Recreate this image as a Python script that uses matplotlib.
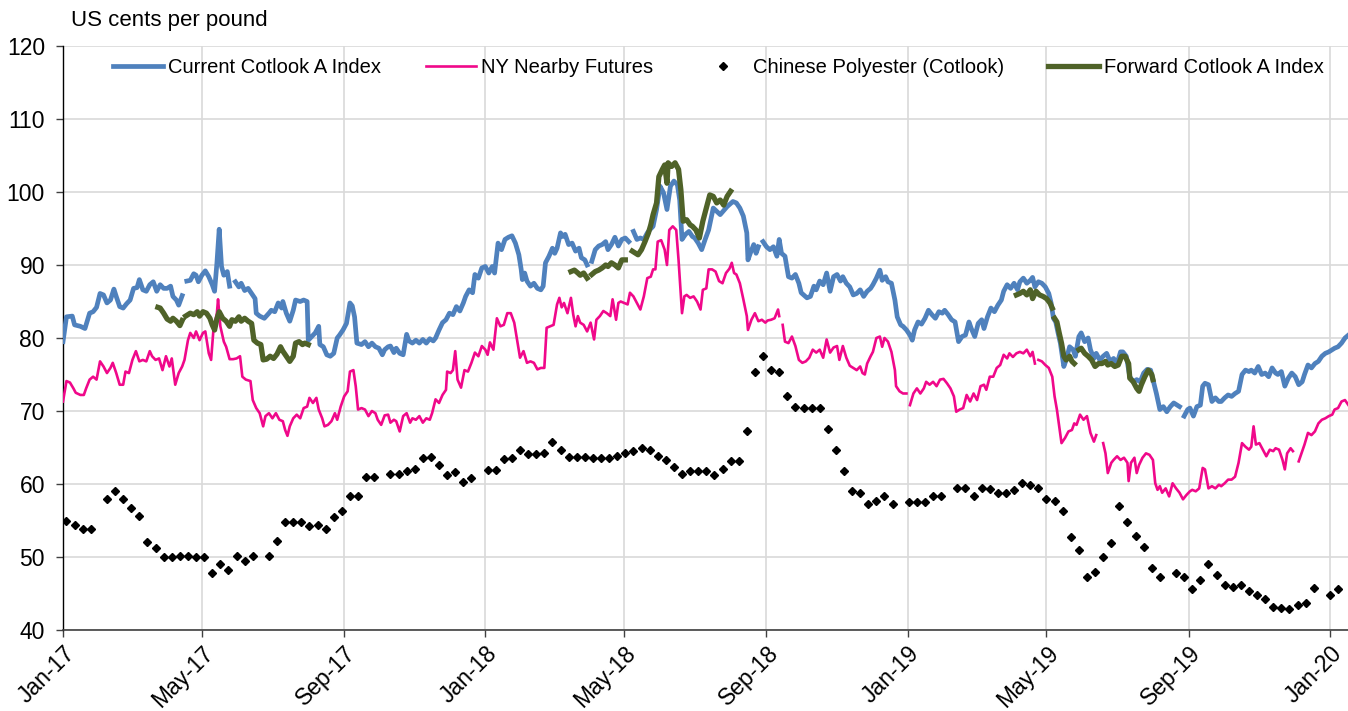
import numpy as np
import pandas as pd
import matplotlib
matplotlib.use('Agg')
import matplotlib.pyplot as plt

plt.rcParams['font.family'] = ['Liberation Sans', 'DejaVu Sans']

nan = np.nan
BASE = pd.Timestamp('2017-01-01')

# ---------- Current Cotlook A Index (day offset from 1 Jan 2017, US cents/lb) ----------
cotlook_day = [
    0, 3, 8, 10, 15, 19, 23, 26, 29, 32, 35, 38, 41, 44, 46, 49, 52, 55, 58, 61,
    64, 66, 69, 72, 75, 78, 81, 84, 87, 90, 93, 95, 98, 100, 103, 105, 107, 110, 113, 115,
    117, 120, 123, 126, 129, 131, 133, 135, 137, 139, 142, 144, 146, 149, 152, 154, 157, 160, 163, 166,
    167, 170, 174, 178, 180, 183, 186, 189, 190, 193, 196, 199, 201, 205, 208, 211, 212, 215, 218, 221,
    222, 225, 228, 231, 234, 237, 239, 242, 245, 248, 250, 252, 254, 258, 261, 264, 267, 270, 273, 276,
    278, 281, 283, 286, 288, 291, 294, 297, 299, 302, 305, 308, 311, 314, 317, 320, 322, 325, 328, 331,
    334, 337, 340, 343, 346, 348, 351, 354, 356, 359, 362, 365, 368, 371, 373, 376, 379, 382, 385, 388,
    391, 394, 396, 397, 399, 401, 404, 407, 410, 413, 415, 417, 420, 423, 425, 427, 430, 432, 434, 437,
    440, 443, 446, 448, 451, 453, 455, 457, 460, 463, 466, 469, 471, 474, 477, 480, 483, 486, 489, 491,
    493, 496, 499, 502, 505, 507, 510, 513, 516, 519, 522, 525, 528, 531, 533, 535, 538, 541, 544, 546,
    549, 552, 555, 558, 562, 568, 574, 579, 582, 585, 588, 591, 592, 594, 597, 599, 601, 603, 605, 608,
    611, 614, 617, 619, 621, 624, 627, 630, 633, 636, 638, 643, 646, 649, 651, 654, 657, 660, 663, 666,
    669, 672, 674, 677, 680, 683, 686, 689, 692, 695, 698, 700, 703, 706, 708, 711, 713, 716, 719, 721,
    724, 726, 729, 732, 734, 736, 739, 742, 745, 748, 751, 754, 757, 760, 762, 765, 768, 771, 774, 777,
    780, 783, 785, 788, 791, 794, 796, 799, 802, 805, 808, 811, 813, 816, 819, 822, 825, 827, 830, 833,
    836, 838, 840, 843, 846, 849, 852, 854, 856, 858, 860, 862, 865, 867, 870, 873, 875, 878, 880, 883,
    886, 888, 891, 893, 896, 899, 902, 905, 908, 911, 914, 916, 919, 922, 925, 928, 931, 934, 937, 940,
    942, 945, 948, 951, 954, 957, 960, 963, 965, 967, 969, 972, 974, 977, 980, 983, 985, 987, 990, 993,
    996, 999, 1001, 1004, 1007, 1010, 1013, 1016, 1019, 1022, 1025, 1027, 1030, 1033, 1036, 1039, 1042, 1045, 1048, 1050,
    1053, 1056, 1059, 1062, 1065, 1068, 1071, 1073, 1076, 1079, 1082, 1085, 1088, 1091, 1094, 1097, 1099, 1102, 1105, 1108,
    1111,
]
cotlook_val = [
    79.5, 82.9, 83.0, 81.8, 81.6, 81.3, 83.4, 83.6, 84.2, 86.1, 85.9, 84.8, 85.2, 86.7, 85.7, 84.3, 84.1, 84.7, 85.2, 86.8,
    86.9, 88.0, 86.6, 86.4, 87.3, 87.7, 86.4, 87.3, 86.8, 86.8, 87.1, 85.7, 85.2, 84.5, 85.8, nan, 87.8, 87.9, 88.8, 88.6,
    87.7, 88.6, 89.2, 88.4, 87.3, 86.4, 90.2, 94.9, 89.8, 88.6, 89.1, 87.1, nan, 87.7, 87.0, 87.5, 86.5, 86.8, 86.1, 85.4,
    83.4, 83.0, 82.7, 83.4, 83.8, 83.6, 84.8, 84.1, 85.0, 83.4, 82.3, 83.8, 85.2, 85.0, 85.2, 85.0, 79.7, 80.2, 80.7, 81.6,
    79.1, 78.8, 77.7, 77.5, 77.9, 80.0, 80.4, 81.1, 82.0, 84.8, 84.4, 82.9, 79.3, 79.1, 79.5, 78.8, 79.3, 78.8, 78.6, 77.7,
    78.4, 78.8, 78.9, 78.0, 78.6, 77.9, 77.7, 80.5, 79.6, 79.3, 79.7, 79.3, 79.8, 79.3, 79.9, 79.6, 80.0, 81.1, 82.1, 82.5,
    83.4, 83.2, 84.3, 83.7, 84.8, 85.7, 86.6, 86.2, 88.7, 88.2, 89.6, 89.8, 88.9, 89.8, 88.9, 93.0, 92.1, 93.5, 93.8, 94.0,
    93.0, 91.4, 89.4, 88.0, 88.9, 87.8, 87.1, 87.5, 86.8, 86.6, 87.1, 90.3, 91.2, 92.3, 91.6, 92.3, 94.4, 93.9, 94.2, 92.8,
    93.0, 91.9, 92.3, 91.0, 90.7, 90.0, nan, 90.5, 92.1, 92.6, 92.8, 93.2, 92.1, 92.8, 93.8, 92.6, 93.5, 93.7, 93.2, nan,
    94.6, 93.5, 93.7, 93.5, 94.4, 94.8, 95.3, 97.6, 100.8, 99.9, 97.6, 100.8, 101.5, 101.0, 98.9, 93.5, 94.2, 94.6, 93.9, 93.7,
    93.0, 92.1, 93.5, 94.8, 97.8, 96.9, 98.0, 98.7, 98.5, 97.8, 96.7, 94.4, 90.7, 91.6, 92.8, 91.6, 92.5, nan, 93.2, 92.5,
    92.1, 92.5, 91.2, 93.5, 91.6, 91.2, 88.4, 88.2, 88.7, 87.5, 86.2, 85.5, 85.7, 87.1, 86.6, 87.8, 87.3, 88.9, 86.4, 88.4,
    88.7, 87.8, 88.4, 87.5, 87.0, 85.9, 86.1, 86.6, 85.7, 86.4, 86.8, 87.3, 88.2, 89.3, 87.9, 88.4, 87.7, 87.5, 85.2, 82.9,
    81.8, 81.6, 81.1, 80.4, 79.7, 81.1, 82.2, 81.9, 82.7, 83.8, 83.2, 82.7, 83.6, 83.4, 83.8, 83.2, 82.5, 82.2, 79.5, 80.2,
    80.4, 82.2, 81.3, 80.2, 82.0, 82.5, 81.3, 82.9, 84.1, 83.6, 84.5, 85.2, 86.4, 87.3, 86.8, 87.5, 86.6, 87.7, 88.2, 87.5,
    87.9, 88.3, 87.0, 87.7, 87.5, 87.0, 86.1, 84.8, 82.7, 82.2, 80.7, 79.3, 76.1, 77.0, 78.8, 78.4, 77.5, 80.2, 80.7, 79.5,
    80.0, 78.4, 77.2, 77.9, 77.0, 77.5, 77.9, 76.8, 77.2, 76.5, 78.1, 78.1, 77.5, 74.7, 74.0, 74.3, 74.0, 75.2, 75.7, 75.6,
    74.3, 72.4, 70.2, 70.6, 69.9, 70.6, 71.1, 70.8, 70.6, nan, 69.3, 70.2, 70.4, 69.3, 70.6, 70.8, 73.4, 73.8, 73.6, 71.3,
    71.8, 71.3, 71.3, 71.8, 72.2, 72.0, 72.4, 72.7, 75.0, 75.6, 75.4, 75.6, 75.2, 76.1, 75.0, 75.2, 74.7, 75.9, 75.2, 75.0,
    75.4, 73.4, 74.5, 75.2, 74.7, 73.6, 74.0, 75.0, 76.3, 75.9, 76.5, 76.8, 77.5, 77.9, 78.1, 78.4, 78.6, 78.8, 79.3, 80.0,
    80.4,
]

# ---------- NY Nearby Futures ----------
ny_day = [
    0, 3, 6, 9, 11, 15, 18, 20, 23, 26, 29, 32, 35, 38, 41, 43, 46, 49, 52, 54,
    57, 60, 63, 66, 69, 72, 75, 77, 80, 83, 86, 89, 92, 94, 97, 100, 103, 105, 108, 110,
    113, 115, 118, 121, 123, 126, 128, 130, 133, 134, 136, 139, 141, 144, 147, 150, 153, 155, 158, 162,
    164, 167, 170, 173, 175, 178, 181, 184, 187, 190, 192, 194, 196, 199, 202, 205, 208, 211, 213, 216,
    219, 221, 224, 226, 229, 232, 235, 237, 240, 243, 246, 248, 251, 253, 255, 258, 261, 264, 267, 270,
    272, 275, 278, 281, 283, 286, 288, 291, 294, 297, 300, 302, 305, 308, 311, 314, 317, 319, 322, 325,
    328, 331, 332, 335, 337, 339, 341, 344, 347, 350, 353, 356, 359, 362, 365, 367, 369, 372, 375, 378,
    381, 384, 387, 390, 392, 395, 398, 401, 404, 407, 410, 413, 416, 418, 421, 424, 427, 429, 431, 433,
    436, 439, 441, 443, 445, 447, 450, 453, 456, 459, 461, 464, 467, 470, 473, 475, 478, 480, 482, 485,
    488, 490, 493, 496, 499, 502, 505, 508, 510, 512, 514, 517, 520, 522, 524, 527, 530, 532, 535, 537,
    539, 542, 545, 548, 551, 553, 556, 558, 561, 564, 567, 570, 573, 576, 578, 580, 582, 585, 588, 591,
    592, 595, 598, 601, 604, 607, 609, 612, 615, 618, 619, 620, 622, 624, 627, 630, 633, 636, 639, 642,
    645, 648, 651, 654, 657, 660, 663, 666, 669, 671, 674, 677, 680, 683, 686, 689, 691, 693, 695, 698,
    700, 703, 706, 708, 710, 713, 716, 719, 720, 723, 726, 729, 730, 732, 735, 738, 741, 744, 746, 749,
    752, 755, 758, 761, 764, 767, 770, 772, 775, 778, 781, 784, 787, 790, 793, 796, 798, 801, 804, 807,
    810, 813, 816, 818, 821, 824, 827, 830, 833, 836, 838, 840, 841, 843, 846, 849, 852, 855, 857, 859,
    861, 863, 866, 869, 872, 874, 876, 879, 882, 885, 888, 891, 893, 895, 899, 901, 903, 906, 908, 911,
    914, 917, 920, 921, 923, 926, 928, 930, 933, 936, 939, 942, 944, 946, 948, 950, 953, 956, 959, 962,
    965, 968, 971, 974, 976, 979, 982, 985, 987, 990, 993, 996, 999, 1001, 1004, 1007, 1010, 1013, 1016, 1019,
    1022, 1025, 1027, 1029, 1031, 1034, 1037, 1040, 1043, 1046, 1048, 1051, 1054, 1056, 1058, 1061, 1063, 1065, 1068, 1071,
    1073, 1076, 1079, 1082, 1085, 1088, 1091, 1094, 1097, 1099, 1102, 1105, 1108, 1111,
]
ny_val = [
    71.3, 74.1, 73.9, 73.1, 72.5, 72.2, 72.2, 73.1, 74.3, 74.7, 74.3, 76.8, 76.1, 75.2, 75.9, 76.6, 75.2, 73.6, 73.6, 75.4,
    75.2, 77.0, 78.2, 76.8, 77.0, 76.8, 78.2, 77.5, 77.0, 77.2, 75.6, 77.5, 76.1, 77.2, 73.6, 75.2, 76.1, 77.0, 79.7, 80.7,
    80.0, 80.9, 79.7, 80.7, 80.9, 77.9, 77.0, 81.1, 83.4, 85.3, 81.6, 79.5, 78.8, 77.1, 77.1, 77.2, 77.5, 74.7, 74.3, 74.1,
    71.5, 70.4, 69.7, 67.9, 69.3, 69.7, 69.0, 69.7, 68.8, 68.6, 67.4, 66.6, 67.9, 69.0, 69.5, 69.0, 70.4, 70.6, 71.8, 71.1,
    71.8, 70.2, 69.0, 67.9, 68.1, 68.6, 69.7, 68.8, 70.6, 72.0, 72.7, 75.4, 75.6, 73.4, 70.2, 70.4, 70.2, 69.3, 70.0, 69.7,
    68.8, 68.1, 69.4, 69.5, 68.4, 68.8, 68.6, 67.2, 69.3, 69.7, 68.4, 69.0, 68.8, 69.3, 68.4, 69.0, 68.8, 69.7, 71.6, 71.1,
    72.2, 72.9, 75.4, 75.2, 75.6, 78.2, 74.3, 73.2, 75.6, 75.4, 76.6, 78.0, 77.5, 78.9, 78.4, 77.7, 79.4, 78.4, 82.7, 81.6,
    81.8, 83.4, 83.4, 82.1, 80.2, 77.3, 78.2, 76.6, 76.8, 76.6, 75.7, 75.9, 75.9, 81.4, 81.6, 81.8, 84.6, 85.5, 84.2, 84.8,
    83.4, 85.5, 83.2, 81.6, 83.0, 82.1, 81.8, 80.9, 82.1, 79.8, 82.5, 83.0, 83.7, 83.4, 83.0, 85.3, 82.5, 84.8, 85.0, 84.8,
    84.6, 86.2, 85.7, 84.8, 83.9, 85.7, 88.2, 88.4, 89.4, 89.4, 93.2, 93.4, 92.1, 90.0, 94.8, 95.3, 94.8, 90.7, 83.4, 85.7,
    85.9, 85.5, 85.7, 85.0, 83.9, 86.6, 86.8, 89.4, 89.4, 89.1, 87.8, 87.5, 88.9, 89.5, 90.3, 88.9, 88.7, 87.5, 85.3, 83.0,
    81.1, 82.5, 83.4, 82.3, 82.5, 82.1, 82.4, 82.5, 82.7, 83.9, 83.0, nan, 81.8, 79.5, 79.3, 80.2, 78.9, 77.0, 76.6, 76.8,
    77.3, 78.4, 78.0, 78.4, 77.3, 79.8, 78.0, 78.7, 78.9, 77.0, 78.9, 77.3, 76.2, 75.9, 75.6, 76.1, 75.2, 75.0, 76.5, 77.5,
    78.1, 80.0, 80.2, 78.8, 80.0, 79.5, 78.1, 75.6, 73.4, 72.7, 72.4, 72.4, nan, 70.8, 72.4, 73.1, 72.4, 73.1, 74.0, 73.6,
    74.0, 73.4, 74.3, 74.4, 73.8, 73.1, 72.0, 69.9, 70.2, 70.4, 72.2, 71.3, 72.4, 71.5, 73.4, 73.6, 72.9, 74.7, 74.7, 75.9,
    76.3, 77.7, 77.2, 77.9, 77.4, 77.9, 78.1, 77.9, 78.4, 77.5, 78.1, 76.5, nan, 77.0, 76.8, 76.3, 75.9, 74.7, 72.0, 70.2,
    67.9, 65.6, 66.3, 67.2, 67.4, 68.3, 68.1, 69.5, 68.8, 69.3, 67.0, 65.8, 66.7, nan, 65.6, 64.2, 61.5, 62.9, 63.3, 63.8,
    63.3, 63.6, 62.9, 60.4, 62.9, 63.6, 61.5, 62.6, 63.6, 64.2, 64.0, 63.3, 60.1, 59.2, 59.7, 58.8, 59.4, 58.3, 60.1, 59.4,
    58.8, 57.9, 58.5, 59.0, 59.2, 59.0, 59.4, 62.2, 62.0, 59.4, 59.7, 59.4, 59.9, 59.7, 60.1, 60.6, 60.6, 61.0, 62.9, 65.6,
    65.1, 64.7, 65.1, 67.9, 65.4, 65.6, 64.7, 63.8, 64.7, 64.5, 64.9, 64.7, 63.3, 62.0, 64.2, 64.9, 64.5, nan, 63.1, 64.5,
    65.4, 67.0, 66.7, 67.2, 68.3, 68.8, 69.0, 69.3, 69.5, 70.2, 70.4, 71.3, 71.5, 70.8,
]

# ---------- Chinese Polyester (Cotlook), weekly from 4 Jan 2017 ----------
poly_start = '2017-01-04'
poly_val = [
    54.9, 54.4, 53.9, 53.9, nan, 57.9, 59.0, 57.9, 56.7, 55.6, 52.1, 51.3, 50.0, 50.0, 50.1, 50.2, 50.0, 50.0, 47.8, 49.1,
    48.2, 50.1, 49.4, 50.2, nan, 50.1, 52.2, 54.8, 54.8, 54.8, 54.2, 54.4, 53.8, 55.5, 56.3, 58.4, 58.4, 61.0, 60.9, nan,
    61.4, 61.4, 61.8, 62.0, 63.5, 63.7, 62.6, 61.2, 61.6, 60.3, 60.8, nan, 61.9, 61.9, 63.4, 63.6, 64.6, 64.1, 64.1, 64.2,
    65.8, 64.7, 63.7, 63.7, 63.7, 63.6, 63.6, 63.6, 63.9, 64.2, 64.5, 64.9, 64.7, 63.8, 63.3, 62.3, 61.4, 61.8, 61.8, 61.8,
    61.3, 62.0, 63.1, 63.1, 67.3, 75.3, 77.6, 75.6, 75.3, 72.1, 70.5, 70.4, 70.4, 70.4, 67.5, 64.7, 61.8, 59.1, 58.8, 57.3,
    57.7, 58.4, 57.2, nan, 57.6, 57.6, 57.6, 58.4, 58.4, nan, 59.4, 59.4, 58.4, 59.4, 59.3, 58.7, 58.7, 59.2, 60.2, 59.9,
    59.4, 58.0, 57.7, 56.3, 52.8, 50.9, 47.2, 48.0, 50.0, 51.9, 57.0, 54.8, 52.9, 51.4, 48.5, 47.2, nan, 47.8, 47.2, 45.6,
    46.9, 49.0, 47.5, 46.2, 45.9, 46.1, 45.3, 44.8, 44.2, 43.2, 43.0, 42.9, 43.4, 43.7, 45.8, nan, 44.8, 45.6,
]

# ---------- Forward Cotlook A Index ----------
fwd_day = [
    82, 84, 87, 90, 93, 95, 98, 101, 103, 105, 106, 110, 113, 116, 118, 121, 124, 127, 129, 131,
    133, 135, 138, 141, 144, 146, 149, 152, 154, 157, 160, 163, 165, 168, 171, 173, 176, 179, 182, 185,
    188, 190, 193, 196, 199, 201, 204, 207, 209, 212, 300, 439, 442, 445, 447, 450, 453, 455, 457, 460,
    463, 466, 469, 471, 474, 477, 480, 483, 486, 489, 492, 495, 497, 500, 503, 506, 508, 510, 513, 515,
    518, 520, 522, 523, 526, 529, 532, 534, 536, 539, 542, 544, 547, 550, 553, 556, 559, 562, 565, 568,
    571, 574, 577, 700, 824, 827, 830, 833, 836, 838, 841, 844, 847, 850, 853, 855, 856, 857, 859, 861,
    863, 865, 867, 870, 872, 874, 876, 878, 880, 883, 886, 889, 892, 895, 898, 901, 903, 906, 909, 912,
    915, 918, 921, 922, 925, 928, 930, 932, 935, 938, 941, 942,
]
fwd_val = [
    84.2, 84.1, 83.4, 82.6, 82.3, 82.7, 82.3, 81.7, 82.4, nan, 83.0, 83.4, 83.2, 83.6, 83.0, 83.6, 83.4, 82.7, 81.8, 81.1,
    82.6, 83.6, 82.7, 82.3, 81.6, 82.5, 82.3, 82.9, 82.3, 82.7, 82.3, 82.0, 79.7, 79.3, 79.1, 77.0, 77.1, 77.5, 77.2, 77.8,
    78.8, 78.2, 77.5, 76.8, 77.5, 79.3, 79.5, 79.1, 79.3, 79.1, nan, 89.1, 89.3, 88.9, 88.6, 88.9, 88.2, nan, 88.7, 89.1,
    89.3, 89.6, 90.0, 89.8, 90.3, 90.0, 89.6, 90.7, 90.7, nan, 91.9, 91.6, 91.4, 92.1, 93.2, 94.4, 95.5, 96.9, 98.5, 102.1,
    103.1, 103.7, 101.2, 104.0, 103.5, 104.0, 103.1, 100.3, 96.0, 96.2, 95.5, 95.3, 94.8, 93.7, 96.0, 97.8, 99.6, 99.4, 98.5, 98.9,
    98.2, 99.4, 100.1, nan, 85.9, 86.1, 86.4, 85.9, 86.6, 85.4, 86.4, 85.9, 85.7, 85.4, 84.8, 84.1, nan, 82.7, 82.2, 80.7,
    79.3, 77.5, 77.0, 77.5, 76.8, 76.5, nan, 78.4, 78.6, 77.9, 77.5, 77.0, 76.1, 76.5, 76.5, 76.8, 76.3, 76.5, 76.1, 76.3,
    77.5, 77.5, 76.5, 74.5, 74.0, 73.1, 72.7, 73.6, 74.7, 75.6, 75.0, 74.3,
]

tick_dates = pd.date_range('2017-01-01', '2020-01-01', freq='4MS')
tick_labels = [d.strftime('%b-%y') for d in tick_dates]

cotlook_x = BASE + pd.to_timedelta(cotlook_day, unit='D')
ny_x = BASE + pd.to_timedelta(ny_day, unit='D')
fwd_x = BASE + pd.to_timedelta(fwd_day, unit='D')
poly_x = pd.date_range(poly_start, periods=len(poly_val), freq='7D')

fig = plt.figure(figsize=(13.48, 7.11), dpi=100)
ax = fig.add_axes([63 / 1348, 1 - 630 / 711, 1 - 63 / 1348, (630 - 46) / 711])

ax.plot(cotlook_x, cotlook_val, color='#4F81BD', lw=3.4, label='Current Cotlook A Index', zorder=3)
ax.plot(ny_x, ny_val, color='#F0088A', lw=1.9, label='NY Nearby Futures', zorder=3)
ax.plot(poly_x, poly_val, ls='none', marker='D', ms=4.2, color='black', label='Chinese Polyester (Cotlook)', zorder=4)
ax.plot(fwd_x, fwd_val, color='#4F6228', lw=3.8, label='Forward Cotlook A Index', zorder=5)

ax.set_ylim(40, 120)
ax.set_yticks(range(40, 121, 10))
ax.set_xlim(BASE, BASE + pd.Timedelta(days=1110.6))
ax.set_xticks(tick_dates)
ax.set_xticklabels(tick_labels, rotation=45, ha='right', rotation_mode='anchor')

ax.grid(True, color='#D9D9D9', lw=1.2)
ax.set_axisbelow(True)
for side in ['top', 'right']:
    ax.spines[side].set_visible(False)
ax.spines['left'].set_color('#000000')
ax.spines['bottom'].set_color('#404040')
ax.spines['left'].set_linewidth(1.0)
ax.spines['bottom'].set_linewidth(1.2)
ax.tick_params(axis='both', labelsize=16.5, length=5, width=1.0, color='#404040')
ax.tick_params(axis='y', pad=8)

ax.text(0.006, 1.043, 'US cents per pound', transform=ax.transAxes, fontsize=16,
        ha='left', va='center')

ax.legend(loc='center', bbox_to_anchor=(0.51, 0.963), ncol=4, frameon=False,
          fontsize=14.5, handlelength=2.5, handletextpad=0.25, columnspacing=2.2,
          borderaxespad=0)

fig.savefig('out.png', dpi=100)
